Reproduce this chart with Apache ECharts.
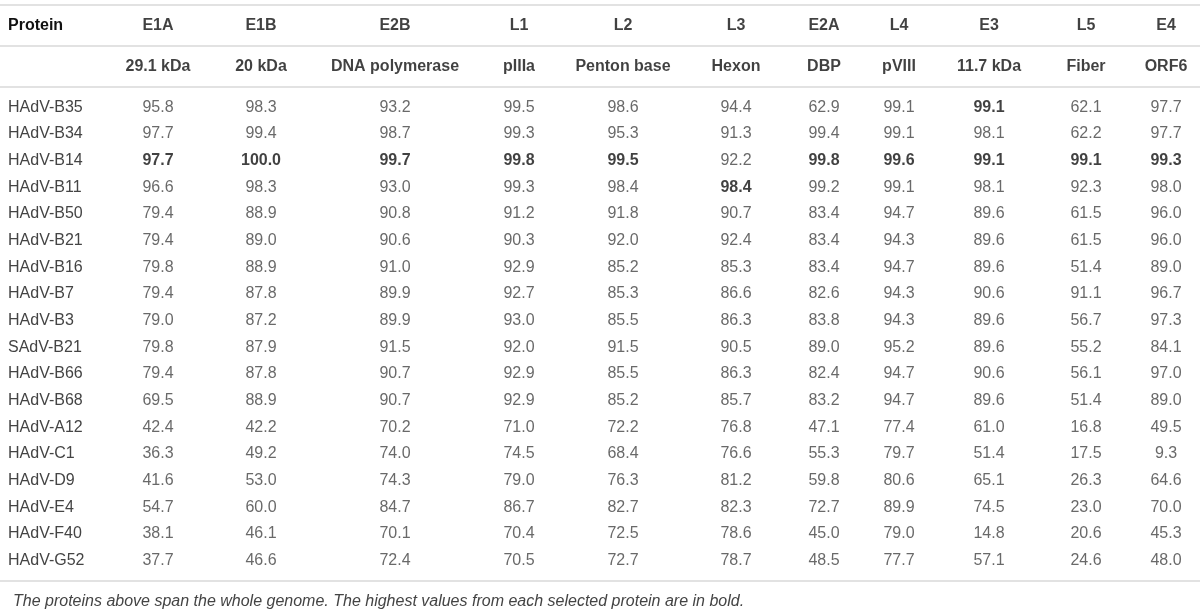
<!DOCTYPE html>
<html>
<head>
<meta charset="utf-8">
<script src="https://cdn.jsdelivr.net/npm/echarts@6/dist/echarts.min.js"></script>
<style>
  html, body { margin: 0; padding: 0; background: #fff; }
  #main { width: 1200px; height: 611px; }
</style>
</head>
<body>
<div id="main"></div>
<script>
// table data
var genes = ['E1A', 'E1B', 'E2B', 'L1', 'L2', 'L3', 'E2A', 'L4', 'E3', 'L5', 'E4'];
var proteins = ['29.1 kDa', '20 kDa', 'DNA polymerase', 'pIIIa', 'Penton base', 'Hexon', 'DBP', 'pVIII', '11.7 kDa', 'Fiber', 'ORF6'];
var strains = ['HAdV-B35', 'HAdV-B34', 'HAdV-B14', 'HAdV-B11', 'HAdV-B50', 'HAdV-B21', 'HAdV-B16', 'HAdV-B7', 'HAdV-B3',
    'SAdV-B21', 'HAdV-B66', 'HAdV-B68', 'HAdV-A12', 'HAdV-C1', 'HAdV-D9', 'HAdV-E4', 'HAdV-F40', 'HAdV-G52'];
var identity = [
    [95.8, 98.3, 93.2, 99.5, 98.6, 94.4, 62.9, 99.1, 99.1, 62.1, 97.7],
    [97.7, 99.4, 98.7, 99.3, 95.3, 91.3, 99.4, 99.1, 98.1, 62.2, 97.7],
    [97.7, 100.0, 99.7, 99.8, 99.5, 92.2, 99.8, 99.6, 99.1, 99.1, 99.3],
    [96.6, 98.3, 93.0, 99.3, 98.4, 98.4, 99.2, 99.1, 98.1, 92.3, 98.0],
    [79.4, 88.9, 90.8, 91.2, 91.8, 90.7, 83.4, 94.7, 89.6, 61.5, 96.0],
    [79.4, 89.0, 90.6, 90.3, 92.0, 92.4, 83.4, 94.3, 89.6, 61.5, 96.0],
    [79.8, 88.9, 91.0, 92.9, 85.2, 85.3, 83.4, 94.7, 89.6, 51.4, 89.0],
    [79.4, 87.8, 89.9, 92.7, 85.3, 86.6, 82.6, 94.3, 90.6, 91.1, 96.7],
    [79.0, 87.2, 89.9, 93.0, 85.5, 86.3, 83.8, 94.3, 89.6, 56.7, 97.3],
    [79.8, 87.9, 91.5, 92.0, 91.5, 90.5, 89.0, 95.2, 89.6, 55.2, 84.1],
    [79.4, 87.8, 90.7, 92.9, 85.5, 86.3, 82.4, 94.7, 90.6, 56.1, 97.0],
    [69.5, 88.9, 90.7, 92.9, 85.2, 85.7, 83.2, 94.7, 89.6, 51.4, 89.0],
    [42.4, 42.2, 70.2, 71.0, 72.2, 76.8, 47.1, 77.4, 61.0, 16.8, 49.5],
    [36.3, 49.2, 74.0, 74.5, 68.4, 76.6, 55.3, 79.7, 51.4, 17.5, 9.3],
    [41.6, 53.0, 74.3, 79.0, 76.3, 81.2, 59.8, 80.6, 65.1, 26.3, 64.6],
    [54.7, 60.0, 84.7, 86.7, 82.7, 82.3, 72.7, 89.9, 74.5, 23.0, 70.0],
    [38.1, 46.1, 70.1, 70.4, 72.5, 78.6, 45.0, 79.0, 14.8, 20.6, 45.3],
    [37.7, 46.6, 72.4, 70.5, 72.7, 78.7, 48.5, 77.7, 57.1, 24.6, 48.0]
];
// [row, col] cells set in bold in the source
var boldCells = [[0, 8], [2, 0], [2, 1], [2, 2], [2, 3], [2, 4], [2, 6], [2, 7], [2, 8], [2, 9], [2, 10], [3, 5]];
var footnote = 'The proteins above span the whole genome. The highest values from each selected protein are in bold.';

// layout: column centres in px
var COL_X = [158, 261, 395, 519, 623, 736, 824, 899, 989, 1086, 1166];
var FONT = 'Liberation Sans';

function isBold(r, c) {
    for (var i = 0; i < boldCells.length; i++) {
        if (boldCells[i][0] === r && boldCells[i][1] === c) return true;
    }
    return false;
}

var headData = [];
for (var c = 0; c < genes.length; c++) {
    headData.push({value: [COL_X[c], 0], name: genes[c]});
    headData.push({value: [COL_X[c], 1], name: proteins[c]});
}

var cellData = [];
for (var r = 0; r < strains.length; r++) {
    for (var c = 0; c < genes.length; c++) {
        var item = {value: [COL_X[c], r], name: identity[r][c].toFixed(1)};
        if (isBold(r, c)) {
            item.label = {fontWeight: 'bold', color: '#111'};
        }
        cellData.push(item);
    }
}

var chart = echarts.init(document.getElementById('main'));
var lineColor = '#e2e2e2';
chart.setOption({
    animation: false,
    textStyle: {fontFamily: FONT},
    title: {
        text: footnote,
        left: 8,
        top: 589,
        textStyle: {fontSize: 16, fontStyle: 'italic', fontWeight: 'normal', color: '#444', fontFamily: FONT}
    },
    grid: [
        {left: 0, right: 0, top: 5, height: 82},
        {left: 0, right: 0, top: 94, height: 480}
    ],
    xAxis: [
        {gridIndex: 0, type: 'value', min: 0, max: 1200, show: false},
        {gridIndex: 1, type: 'value', min: 0, max: 1200, splitLine: {show: false}, offset: 7,
            axisLabel: {show: false}, axisTick: {show: false},
            axisLine: {show: true, onZero: false, lineStyle: {color: lineColor, width: 2}}}
    ],
    yAxis: [
        {gridIndex: 0, type: 'category', inverse: true, data: ['Protein', ''],
            axisLine: {show: false}, axisTick: {show: false},
            splitLine: {show: true, lineStyle: {color: lineColor, width: 2}},
            axisLabel: {inside: true, margin: 8, fontSize: 16, fontWeight: 'bold', color: '#111', fontFamily: FONT}},
        {gridIndex: 1, type: 'category', inverse: true, data: strains,
            axisLine: {show: false}, axisTick: {show: false}, splitLine: {show: false},
            axisLabel: {inside: true, margin: 8, fontSize: 16, color: '#444', fontFamily: FONT}}
    ],
    series: [
        {
            type: 'scatter', xAxisIndex: 0, yAxisIndex: 0, symbolSize: 0, data: headData,
            label: {show: true, position: 'inside', formatter: '{b}', fontSize: 16, fontWeight: 'bold', color: '#111', fontFamily: FONT}
        },
        {
            type: 'scatter', xAxisIndex: 1, yAxisIndex: 1, symbolSize: 0, data: cellData,
            label: {show: true, position: 'inside', formatter: '{b}', fontSize: 16, color: '#444', fontFamily: FONT}
        }
    ]
});
</script>
</body>
</html>
